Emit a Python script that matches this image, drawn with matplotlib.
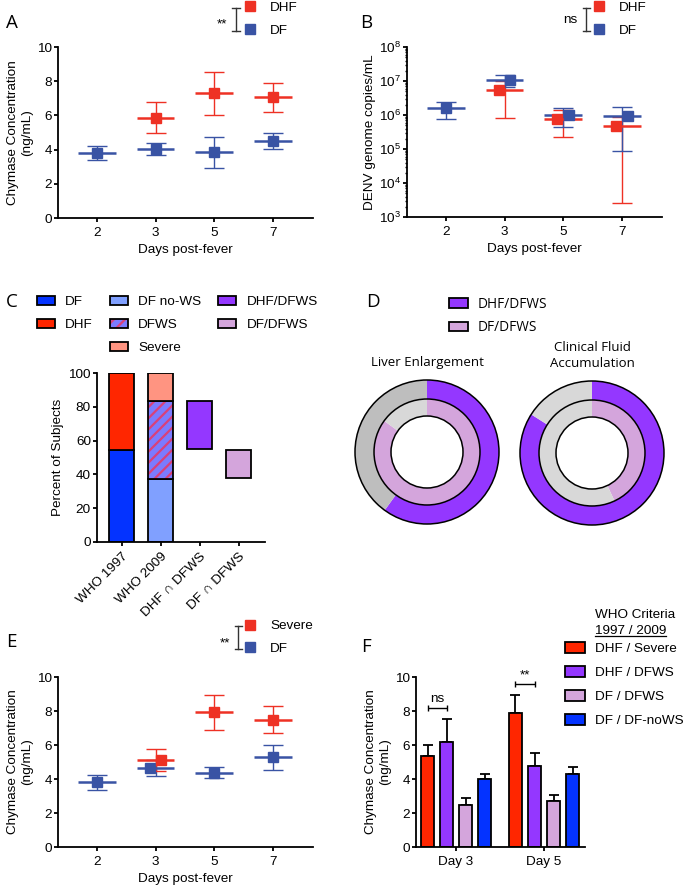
import numpy as np
import matplotlib
matplotlib.use("Agg")
import matplotlib.pyplot as plt
from matplotlib.lines import Line2D
from matplotlib.patches import Patch, Circle

W, H = 685, 890

# -----------------------------
# data
# -----------------------------
days = ["2", "3", "5", "7"]

# A: chymase, DHF vs DF (mean, error low, error high)
a_dhf_mean = [np.nan, 5.85, 7.30, 7.05]
a_dhf_lo = [np.nan, 4.95, 6.00, 6.20]
a_dhf_hi = [np.nan, 6.80, 8.55, 7.90]
a_df_mean = [3.80, 4.05, 3.85, 4.50]
a_df_lo = [3.40, 3.70, 2.90, 4.02]
a_df_hi = [4.20, 4.38, 4.75, 5.00]

# B: viral load (copies/mL)
b_dhf_mean = [np.nan, 5.6e6, 7.8e5, 4.6e5]
b_dhf_lo = [np.nan, 8.3e5, 2.2e5, 2.6e3]
b_dhf_hi = [np.nan, 9.8e6, 1.45e6, 9.0e5]
b_df_mean = [1.6e6, 1.05e7, 1.02e6, 9.4e5]
b_df_lo = [7.8e5, 6.5e6, 4.4e5, 8.5e4]
b_df_hi = [2.4e6, 1.5e7, 1.6e6, 1.7e6]

# C: percent of subjects, floating stacked bars
c_cats = ["WHO 1997", "WHO 2009", "DHF \u2229 DFWS", "DF \u2229 DFWS"]
c_who1997 = [54.5, 45.5]              # DF, DHF
c_who2009 = [37.5, 46.0, 16.5]        # DF no-WS, DFWS, Severe
c_dhf_dfws = (55.0, 83.5)             # bottom, top
c_df_dfws = (38.0, 54.5)

# D: donut fractions (%), [group, rest]
d_titles = ["Liver Enlargement", "Clinical Fluid\nAccumulation"]
d_outer = [[60, 40], [84, 16]]        # DHF/DFWS
d_inner = [[85, 15], [43, 57]]        # DF/DFWS

# E: chymase, Severe vs DF
e_sev_mean = [np.nan, 5.14, 7.94, 7.49]
e_sev_lo = [np.nan, 4.47, 6.90, 6.70]
e_sev_hi = [np.nan, 5.78, 8.92, 8.27]
e_df_mean = [3.80, 4.65, 4.37, 5.27]
e_df_lo = [3.37, 4.18, 4.06, 4.55]
e_df_hi = [4.22, 5.12, 4.69, 5.98]

# F: chymase by WHO criteria
f_groups = ["Day 3", "Day 5"]
f_labels = ["DHF / Severe", "DHF / DFWS", "DF / DFWS", "DF / DF-noWS"]
f_mean = [[5.35, 7.88], [6.18, 4.75], [2.49, 2.70], [3.98, 4.31]]
f_top = [[5.98, 8.92], [7.55, 5.53], [2.88, 3.04], [4.31, 4.70]]
f_sig_text = ["ns", "**"]
f_sig_y = [8.2, 9.6]

# colours
RED_PT = "#EE3124"
BLUE_PT = "#3953A4"
DF_BLUE = "#0433FF"
DHF_RED = "#FF2600"
NOWS_BLUE = "#80A0FF"
DFWS_BASE = "#7B7BFF"
DFWS_STRIPE = "#D9407A"
SEVERE = "#FF9481"
PURPLE = "#9437FF"
LILAC = "#D4A5DC"

plt.rcParams["font.family"] = ["Liberation Sans", "DejaVu Sans"]
plt.rcParams["font.size"] = 9.7
plt.rcParams["axes.linewidth"] = 1.3
plt.rcParams["xtick.major.width"] = 1.3
plt.rcParams["ytick.major.width"] = 1.3
plt.rcParams["xtick.major.size"] = 3.2
plt.rcParams["ytick.major.size"] = 3.2
plt.rcParams["ytick.major.pad"] = 1.2
plt.rcParams["xtick.major.pad"] = 3
plt.rcParams["hatch.linewidth"] = 1.6

fig = plt.figure(figsize=(W / 100, H / 100), dpi=100)


def px_axes(l, t, r, b):
    return fig.add_axes([l / W, 1 - b / H, (r - l) / W, (b - t) / H])


def style(ax):
    ax.spines["top"].set_visible(False)
    ax.spines["right"].set_visible(False)


def panel_letter(x, y, s):
    fig.text(x / W, 1 - y / H, s, fontsize=13.5, family=["Open Sans", "DejaVu Sans"],
             va="baseline", ha="left")


def bracket(x, y0, y1, label, tx, ty):
    c = "#333333"
    fig.add_artist(Line2D([x / W, x / W], [1 - y0 / H, 1 - y1 / H], color=c, lw=1))
    for y in (y0, y1):
        fig.add_artist(Line2D([(x - 3.5) / W, (x + 3.5) / W], [1 - y / H] * 2, color=c, lw=1))
    fig.text(tx / W, 1 - ty / H, label, ha="center", va="baseline", fontsize=9.7)


def marker_legend(labels, colors, x, yc):
    handles = [Line2D([], [], marker="s", ls="none", color=c, ms=6.8, label=l)
               for l, c in zip(labels, colors)]
    fig.legend(handles=handles, loc="center left", bbox_to_anchor=(x / W, 1 - yc / H),
               frameon=False, handlelength=1.0, handletextpad=1.0, labelspacing=0.78,
               borderpad=0, borderaxespad=0, fontsize=9.7)


def mean_err(ax, mean, lo, hi, color, nudge=None):
    mean, lo, hi = np.array(mean), np.array(lo), np.array(hi)
    x = np.arange(len(mean))
    ok = ~np.isnan(mean)
    x, mean, lo, hi = x[ok], mean[ok], lo[ok], hi[ok]
    ax.errorbar(x, mean, yerr=[mean - lo, hi - mean], fmt="none", ecolor=color,
                elinewidth=1.0, capsize=7.2, capthick=1.0, zorder=2)
    ax.hlines(mean, x - 0.32, x + 0.32, color=color, lw=1.8, zorder=3)
    nx = x if nudge is None else x + np.array(nudge)[ok]
    ax.plot(nx, mean, "s", color=color, ms=6.8, zorder=4)


def day_axis(ax):
    style(ax)
    ax.set_xticks(range(len(days)))
    ax.set_xticklabels(days)
    ax.set_xlim(-0.66, 3.68)
    ax.set_xlabel("Days post-fever", labelpad=4)


# -----------------------------
# A
# -----------------------------
axA = px_axes(58, 47, 313, 218)
mean_err(axA, a_df_mean, a_df_lo, a_df_hi, BLUE_PT)
mean_err(axA, a_dhf_mean, a_dhf_lo, a_dhf_hi, RED_PT)
day_axis(axA)
axA.set_ylim(0, 10)
axA.set_yticks(range(0, 11, 2))
axA.set_ylabel("Chymase Concentration\n(ng/mL)", labelpad=3)
panel_letter(6, 28, "A")
marker_legend(["DHF", "DF"], [RED_PT, BLUE_PT], 243, 19)
bracket(236, 8, 31, "**", 222, 27)

# -----------------------------
# B
# -----------------------------
axB = px_axes(407, 47, 662, 217)
mean_err(axB, b_dhf_mean, b_dhf_lo, b_dhf_hi, RED_PT, nudge=[0, -0.1, -0.1, -0.1])
mean_err(axB, b_df_mean, b_df_lo, b_df_hi, BLUE_PT, nudge=[0, 0.1, 0.1, 0.1])
day_axis(axB)
axB.set_yscale("log")
axB.set_ylim(1e3, 1e8)
axB.tick_params(axis="y", which="minor", length=1.8, width=1.0)
axB.set_ylabel("DENV genome copies/mL", labelpad=2)
panel_letter(360, 28, "B")
marker_legend(["DHF", "DF"], [RED_PT, BLUE_PT], 592, 19)
bracket(586, 8, 31, "ns", 570, 23)

# -----------------------------
# C
# -----------------------------
axC = px_axes(97, 373, 265, 542)
style(axC)
bw = 0.64
ek = dict(edgecolor="black", linewidth=1.3, width=bw)
axC.bar(0, c_who1997[0], color=DF_BLUE, **ek)
axC.bar(0, c_who1997[1], bottom=c_who1997[0], color=DHF_RED, **ek)
axC.bar(1, c_who2009[0], color=NOWS_BLUE, **ek)
axC.bar(1, c_who2009[1], bottom=c_who2009[0], color=DFWS_BASE, edgecolor=DFWS_STRIPE,
        hatch="///", linewidth=0, width=bw)
axC.bar(1, c_who2009[1], bottom=c_who2009[0], fill=False, **ek)
axC.bar(1, c_who2009[2], bottom=c_who2009[0] + c_who2009[1], color=SEVERE, **ek)
axC.bar(2, c_dhf_dfws[1] - c_dhf_dfws[0], bottom=c_dhf_dfws[0], color=PURPLE, **ek)
axC.bar(3, c_df_dfws[1] - c_df_dfws[0], bottom=c_df_dfws[0], color=LILAC, **ek)
axC.set_xlim(-0.64, 3.67)
axC.set_ylim(0, 100)
axC.set_yticks(range(0, 101, 20))
axC.set_xticks(range(len(c_cats)))
axC.set_xticklabels(c_cats, rotation=45, ha="right", rotation_mode="anchor")
axC.set_ylabel("Percent of Subjects", labelpad=3)
panel_letter(6, 307, "C")


def sw(c):
    return Patch(facecolor=c, edgecolor="black", linewidth=1.3)


blank = Patch(facecolor="none", edgecolor="none")
dfws_h = (Patch(facecolor=DFWS_BASE, edgecolor=DFWS_STRIPE, hatch="///", linewidth=0),
          Patch(facecolor="none", edgecolor="black", linewidth=1.3))
fig.legend(handles=[sw(DF_BLUE), sw(DHF_RED), blank,
                    sw(NOWS_BLUE), dfws_h, sw(SEVERE),
                    sw(PURPLE), sw(LILAC), blank],
           labels=["DF", "DHF", "", "DF no-WS", "DFWS", "Severe", "DHF/DFWS", "DF/DFWS", ""],
           ncol=3, loc="center left", bbox_to_anchor=(37 / W, 1 - 325 / H),
           frameon=False, handlelength=1.35, handleheight=0.7, handletextpad=0.75,
           columnspacing=1.25, labelspacing=0.79, borderpad=0, borderaxespad=0,
           fontsize=9.7)

# -----------------------------
# D
# -----------------------------
panel_letter(366, 307, "D")
open_sans = ["Open Sans", "DejaVu Sans"]
centers = [(427, 452), (592, 453)]
outer_grays = ["#BEBEBE", "#D8D8D8"]
R = 72
for (cx, cy), outer, inner, title, og in zip(centers, d_outer, d_inner, d_titles, outer_grays):
    ax = px_axes(cx - 80, cy - 80, cx + 80, cy + 80)
    ax.pie(outer, radius=1.0, colors=[PURPLE, og], startangle=90, counterclock=False,
           wedgeprops=dict(width=0.264, linewidth=0))
    ax.pie(inner, radius=0.736, colors=[LILAC, "#D8D8D8"], startangle=90, counterclock=False,
           wedgeprops=dict(width=0.236, linewidth=0))
    for r in (1.0, 0.736, 0.5):
        ax.add_patch(Circle((0, 0), r, fill=False, edgecolor="black", linewidth=1.1))
    ax.set_xlim(-80 / R, 80 / R)
    ax.set_ylim(-80 / R, 80 / R)
    ax.set_aspect("equal")
    ax.axis("off")
    fig.text(cx / W, 1 - (cy - 83) / H, title, ha="center", va="bottom",
             family=open_sans, fontsize=9.5, linespacing=1.3)

fig.legend(handles=[sw(PURPLE), sw(LILAC)], labels=["DHF/DFWS", "DF/DFWS"],
           loc="center left", bbox_to_anchor=(449 / W, 1 - 316 / H), frameon=False,
           handlelength=1.4, handleheight=0.7, handletextpad=0.7, labelspacing=0.6,
           borderpad=0, borderaxespad=0, prop=dict(family=open_sans, size=9.8))

# -----------------------------
# E
# -----------------------------
axE = px_axes(58, 677, 313, 847)
mean_err(axE, e_df_mean, e_df_lo, e_df_hi, BLUE_PT, nudge=[0, -0.1, 0, 0])
mean_err(axE, e_sev_mean, e_sev_lo, e_sev_hi, RED_PT, nudge=[0, 0.1, 0, 0])
day_axis(axE)
axE.set_ylim(0, 10)
axE.set_yticks(range(0, 11, 2))
axE.set_ylabel("Chymase Concentration\n(ng/mL)", labelpad=3)
panel_letter(6, 647, "E")
marker_legend(["Severe", "DF"], [RED_PT, BLUE_PT], 243, 637.5)
bracket(238, 626, 649, "**", 225, 646)

# -----------------------------
# F
# -----------------------------
axF = px_axes(416, 677, 585, 847)
style(axF)
f_colors = [DHF_RED, PURPLE, LILAC, DF_BLUE]
step, fw = 0.216, 0.14
gx = np.arange(len(f_groups))
for i, (m, t, c) in enumerate(zip(f_mean, f_top, f_colors)):
    x = gx + (i - 1.5) * step
    m, t = np.array(m), np.array(t)
    axF.errorbar(x, m, yerr=[np.zeros_like(m), t - m], fmt="none", ecolor="black",
                 elinewidth=1.3, capsize=3.5, capthick=1.3, zorder=1)
    axF.bar(x, m, width=fw, color=c, edgecolor="black", linewidth=1.3, zorder=2)
for g, (txt, y) in enumerate(zip(f_sig_text, f_sig_y)):
    x0, x1 = g - 1.5 * step, g - 0.5 * step
    axF.errorbar((x0 + x1) / 2, y, xerr=(x1 - x0) / 2, fmt="none", ecolor="black",
                 elinewidth=1.0, capsize=2.5, capthick=1.0, clip_on=False)
    axF.text((x0 + x1) / 2, y + 0.3, txt, ha="center", va="baseline", fontsize=9.7,
             clip_on=False)
axF.set_xlim(-0.455, 1.466)
axF.set_ylim(0, 10)
axF.set_yticks(range(0, 11, 2))
axF.set_xticks(gx)
axF.set_xticklabels(f_groups)
axF.set_ylabel("Chymase Concentration\n(ng/mL)", labelpad=3)
panel_letter(361, 652, "F")

fig.text(595 / W, 1 - 618 / H, "WHO Criteria", ha="left", va="baseline", fontsize=9.7)
t97 = fig.text(595 / W, 1 - 634 / H, "1997 / 2009", ha="left", va="baseline", fontsize=9.7)
fig.canvas.draw()
bb = t97.get_window_extent().transformed(fig.transFigure.inverted())
fig.add_artist(Line2D([bb.x0, bb.x1], [1 - 636 / H] * 2, color="black", lw=0.9))

fig.legend(handles=[sw(c) for c in f_colors], labels=f_labels,
           loc="center left", bbox_to_anchor=(565 / W, 1 - 684.5 / H), frameon=False,
           handlelength=1.5, handleheight=0.9, handletextpad=0.75, labelspacing=0.8,
           borderpad=0, borderaxespad=0, fontsize=9.7)

fig.savefig("out.png", dpi=100)
